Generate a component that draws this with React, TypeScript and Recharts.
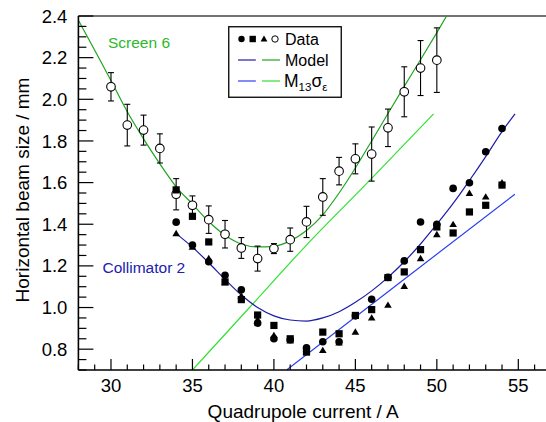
import {
  ComposedChart,
  Line,
  Scatter,
  XAxis,
  YAxis,
  ErrorBar,
  ReferenceLine,
  ReferenceDot,
} from 'recharts';

// measured points (Collimator 2): filled symbols share the same currents
const collX = [34, 35, 36, 37, 38, 39, 40, 41, 42, 43, 44, 45, 46, 47, 48, 49, 50, 51, 52, 53, 54];
const circleY = [1.41, 1.3, 1.22, 1.155, 1.085, 0.925, 0.85, 0.845, 0.807, 0.836, 0.836, 0.96, 1.04, 1.145, 1.224, 1.411, 1.4, 1.572, 1.599, 1.748, 1.86];
const squareY = [1.565, 1.438, 1.315, 1.123, 1.038, 0.964, 0.914, 0.85, 0.786, 0.882, 0.874, 0.962, 0.99, 1.144, 1.171, 1.278, 1.387, 1.358, 1.459, 1.491, 1.588];
const triangleY = [1.355, 1.29, 1.235, 1.12, 1.055, 0.94, 0.866, 0.84, 0.8, 0.794, 0.83, 0.882, 0.95, 1.011, 1.102, 1.235, 1.35, 1.399, 1.548, 1.531, 1.599];

// Screen 6 measurements with error bars
const screenX = [30, 31, 32, 33, 34, 35, 36, 37, 38, 39, 40, 41, 42, 43, 44, 45, 46, 47, 48, 49, 50];
const screenY = [2.06, 1.876, 1.852, 1.764, 1.544, 1.491, 1.422, 1.352, 1.286, 1.235, 1.283, 1.326, 1.411, 1.531, 1.655, 1.714, 1.737, 1.863, 2.036, 2.15, 2.188];
const screenErr = [0.068, 0.1, 0.072, 0.07, 0.075, 0.045, 0.066, 0.066, 0.05, 0.06, 0.024, 0.056, 0.075, 0.088, 0.066, 0.072, 0.13, 0.09, 0.12, 0.132, 0.155];

// model curves
const screenModelX = [28, 30, 31, 32, 33, 34, 35, 36, 37, 38, 39, 40, 41, 42, 43, 44, 45, 46, 47, 48, 49, 50, 50.6];
const screenModelY = [2.38, 2.09, 1.94, 1.81, 1.69, 1.58, 1.497, 1.413, 1.347, 1.305, 1.291, 1.294, 1.32, 1.37, 1.445, 1.55, 1.67, 1.8, 1.932, 2.062, 2.19, 2.32, 2.4];
const collModelX = [34, 35, 36, 37, 38, 39, 40, 41, 42, 43, 44, 45, 46, 47, 48, 49, 50, 51, 52, 53, 54, 54.8];
const collModelY = [1.355, 1.29, 1.215, 1.135, 1.06, 1.0, 0.96, 0.94, 0.935, 0.95, 0.98, 1.025, 1.08, 1.145, 1.22, 1.305, 1.4, 1.5, 1.61, 1.725, 1.845, 1.93];

// M13 * sigma_eps lines
const screenM13X = [35, 38.5, 42, 46, 49.8];
const screenM13Y = [0.7, 1.0, 1.3, 1.62, 1.93];
const collM13X = [40.78, 47.7, 54.79];
const collM13Y = [0.7, 1.118, 1.544];

const xTicks = Array.from({ length: 29 }, (_, i) => 28 + i);
const yTicks = Array.from({ length: 35 }, (_, i) => Math.round((0.7 + i * 0.05) * 100) / 100);

const GREEN_MODEL = '#1fa51f';
const GREEN_M13 = '#33e033';
const BLUE_MODEL = '#1c1ca8';
const BLUE_M13 = '#2a40f0';

const zip = (xs: number[], ys: number[]) => xs.map((x, i) => ({ x, y: ys[i] }));

const circles = zip(collX, circleY);
const squares = zip(collX, squareY);
const triangles = zip(collX, triangleY);
const screenPts = screenX.map((x, i) => ({ x, y: screenY[i], e: screenErr[i] }));

const Dot = (p: any) => <circle cx={p.cx} cy={p.cy} r={3.8} fill="#000" />;
const Square = (p: any) => <rect x={p.cx - 3.6} y={p.cy - 3.6} width={7.2} height={7.2} fill="#000" />;
const Tri = (p: any) => (
  <polygon
    points={`${p.cx},${p.cy - 3.8} ${p.cx + 3.8},${p.cy + 2.6} ${p.cx - 3.8},${p.cy + 2.6}`}
    fill="#000"
  />
);
const Ring = (p: any) => (
  <circle cx={p.cx} cy={p.cy} r={4.3} fill="#fff" stroke="#000" strokeWidth={1.1} />
);

function XTick(props: any) {
  const { x, y, payload } = props;
  const v = payload.value;
  const major = v % 5 === 0;
  const axisY = y - 8.5;
  return (
    <g>
      <line x1={x} x2={x} y1={axisY} y2={axisY - (major ? 11 : 5.5)} stroke="#000" strokeWidth={1.2} />
      {major && (
        <text x={x} y={y} dy="0.71em" textAnchor="middle" fontSize={18.5} fill="#000">
          {v}
        </text>
      )}
    </g>
  );
}

function YTick(props: any) {
  const { x, y, payload } = props;
  const v = payload.value;
  const major = Math.abs(Math.round(v * 10) - v * 10) < 1e-6 && Math.round(v * 10) % 2 === 0;
  const axisX = x + 11;
  return (
    <g>
      <line x1={axisX} x2={axisX + (major ? 15 : 8)} y1={y} y2={y} stroke="#000" strokeWidth={1.2} />
      {major && v >= 0.8 && (
        <text x={x} y={y} dy="0.355em" textAnchor="end" fontSize={18.5} fill="#000">
          {v.toFixed(1)}
        </text>
      )}
    </g>
  );
}

function Legend() {
  return (
    <svg
      width={114}
      height={72}
      style={{ position: 'absolute', left: 228, top: 26 }}
    >
      <rect x={0.75} y={0.75} width={112.5} height={70.5} fill="#fff" stroke="#000" strokeWidth={1.3} />
      <circle cx={13.5} cy={13} r={3.2} fill="#000" />
      <rect x={21.5} y={9.8} width={6.4} height={6.4} fill="#000" />
      <polygon points="36,9.6 39.4,15.6 32.6,15.6" fill="#000" />
      <circle cx={47} cy={13} r={3.2} fill="#fff" stroke="#000" strokeWidth={1} />
      <text x={57} y={18.7} fontSize={16} fill="#000">Data</text>
      <line x1={10} x2={28} y1={34} y2={34} stroke={BLUE_MODEL} strokeWidth={1.2} />
      <line x1={34} x2={52} y1={34} y2={34} stroke={GREEN_MODEL} strokeWidth={1.2} />
      <text x={57} y={39.7} fontSize={16} fill="#000">Model</text>
      <line x1={10} x2={28} y1={55} y2={55} stroke={BLUE_M13} strokeWidth={1.2} />
      <line x1={34} x2={52} y1={55} y2={55} stroke={GREEN_M13} strokeWidth={1.2} />
      <text x={56} y={61} fontSize={17.5} fill="#000">
        M<tspan fontSize={11.5} dy={4}>13</tspan>
        <tspan fontSize={17.5} dy={-4}>σ</tspan>
        <tspan fontSize={11.5} dy={4}>ε</tspan>
      </text>
    </svg>
  );
}

export default function App() {
  return (
    <div
      style={{
        position: 'relative',
        width: 546,
        height: 422,
        fontFamily: '"Liberation Sans", Arial, sans-serif',
        background: '#fff',
      }}
    >
      <style>{'body{margin:0}'}</style>
      <ComposedChart width={546} height={422} margin={{ top: 16, right: 0, bottom: 0, left: 8 }}>
        <XAxis
          type="number"
          dataKey="x"
          domain={[28, 56.7]}
          allowDataOverflow
          ticks={xTicks}
          interval={0}
          tick={<XTick />}
          tickLine={false}
          tickSize={0}
          tickMargin={8.5}
          height={52}
          axisLine={{ stroke: '#000', strokeWidth: 1.6 }}
          label={{
            content: ({ viewBox }: any) => (
              <text
                x={viewBox.x + viewBox.width / 2 - 9}
                y={viewBox.y + viewBox.height - 4}
                textAnchor="middle"
                fontSize={19}
                fill="#000"
              >
                Quadrupole current / A
              </text>
            ),
          }}
        />
        <YAxis
          type="number"
          dataKey="y"
          domain={[0.7, 2.4]}
          allowDataOverflow
          ticks={yTicks}
          interval={0}
          tick={<YTick />}
          tickLine={false}
          tickSize={0}
          tickMargin={11}
          width={70.4}
          axisLine={{ stroke: '#000', strokeWidth: 1.6 }}
          label={{
            content: ({ viewBox }: any) => {
              const cx = 22;
              const cy = viewBox.y + viewBox.height / 2 - 3;
              return (
                <text
                  x={cx}
                  y={cy}
                  dy="0.35em"
                  transform={`rotate(-90, ${cx}, ${cy})`}
                  textAnchor="middle"
                  fontSize={19}
                  fill="#000"
                >
                  Horizontal beam size / mm
                </text>
              );
            },
          }}
        />
        <ReferenceLine y={2.4} stroke="#444" strokeWidth={1.3} />

        <Line data={zip(screenModelX, screenModelY)} dataKey="y" type="monotone" stroke={GREEN_MODEL} strokeWidth={1.2} dot={false} isAnimationActive={false} />
        <Line data={zip(screenM13X, screenM13Y)} dataKey="y" type="monotone" stroke={GREEN_M13} strokeWidth={1.2} dot={false} isAnimationActive={false} />
        <Line data={zip(collModelX, collModelY)} dataKey="y" type="monotone" stroke={BLUE_MODEL} strokeWidth={1.2} dot={false} isAnimationActive={false} />
        <Line data={zip(collM13X, collM13Y)} dataKey="y" type="linear" stroke={BLUE_M13} strokeWidth={1.2} dot={false} isAnimationActive={false} />

        <Scatter data={screenPts} dataKey="y" shape={Ring} isAnimationActive={false}>
          <ErrorBar dataKey="e" direction="y" width={3} stroke="#000" strokeWidth={1.1} />
        </Scatter>
        <Scatter data={triangles} dataKey="y" shape={Tri} isAnimationActive={false} />
        <Scatter data={circles} dataKey="y" shape={Dot} isAnimationActive={false} />
        <Scatter data={squares} dataKey="y" shape={Square} isAnimationActive={false} />

        <ReferenceDot
          x={31.72}
          y={2.275}
          r={0}
          fill="none"
          stroke="none"
          label={{ value: 'Screen 6', position: 'center', fontSize: 15.5, fill: '#2db82d' }}
        />
        <ReferenceDot
          x={32.02}
          y={1.193}
          r={0}
          fill="none"
          stroke="none"
          label={{ value: 'Collimator 2', position: 'center', fontSize: 15.5, fill: '#2020b0' }}
        />
      </ComposedChart>
      <Legend />
    </div>
  );
}
